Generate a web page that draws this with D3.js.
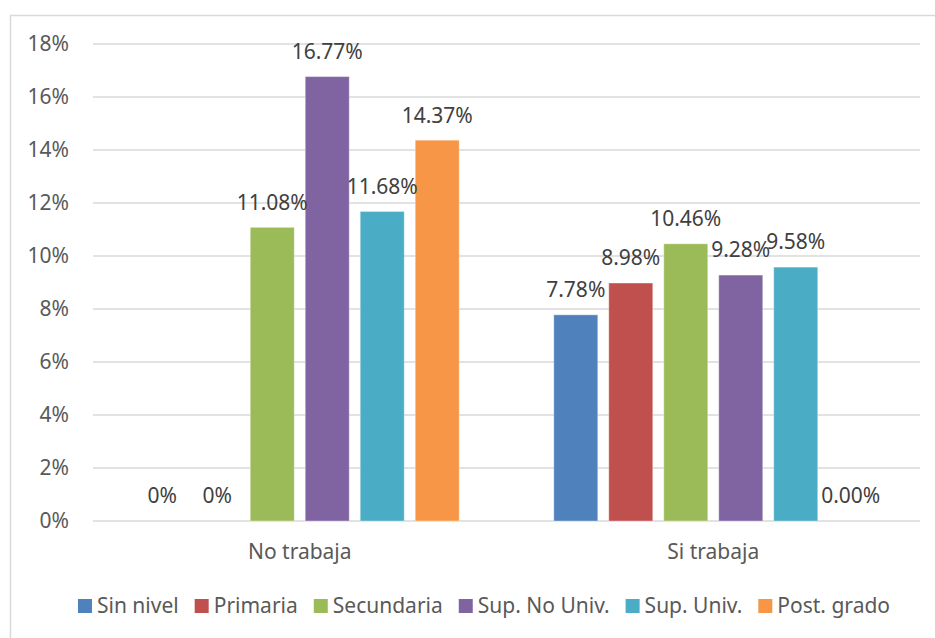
<!DOCTYPE html>
<html>
<head>
<meta charset="utf-8">
<script src="https://cdn.jsdelivr.net/npm/d3@7"></script>
<style>
  body { margin: 0; background: #fff; }
  svg { display: block; font-family: "Noto Sans", sans-serif; }
</style>
</head>
<body>
<div id="chart"></div>
<script>
// grouped bars: education level by work status
const groups = ["No trabaja", "Si trabaja"];
const series = ["Sin nivel", "Primaria", "Secundaria", "Sup. No Univ.", "Sup. Univ.", "Post. grado"];
const noTrabaja = [0, 0, 11.08, 16.77, 11.68, 14.37];
const siTrabaja = [7.78, 8.98, 10.46, 9.28, 9.58, 0];
const noTrabajaLabels = ["0%", "0%", "11.08%", "16.77%", "11.68%", "14.37%"];
const siTrabajaLabels = ["7.78%", "8.98%", "10.46%", "9.28%", "9.58%", "0.00%"];
const yTicks = [0, 2, 4, 6, 8, 10, 12, 14, 16, 18];
const colors = ["#4F81BD", "#C0504D", "#9BBB59", "#8064A2", "#4BACC6", "#F79646"];

const W = 935, H = 638;
const plot = { left: 93, right: 920, top: 44, bottom: 521 };
const FS = 21;

const svg = d3.select("#chart").append("svg")
  .attr("width", W).attr("height", H);

// outer chart frame
svg.append("rect")
  .attr("x", 10.5).attr("y", 15.5)
  .attr("width", W).attr("height", H)
  .attr("fill", "none").attr("stroke", "#d9d9d9").attr("stroke-width", 1.5);

const y = d3.scaleLinear().domain([0, 18]).range([plot.bottom, plot.top]);
const x0 = d3.scaleBand().domain(groups).range([plot.left, plot.right]).padding(0);
const x1 = d3.scaleBand().domain(series).range([0, x0.bandwidth()])
  .paddingInner(0.2).paddingOuter(0.86);
const color = d3.scaleOrdinal().domain(series).range(colors);

// gridlines
svg.append("g").selectAll("line")
  .data(yTicks)
  .join("line")
    .attr("x1", plot.left).attr("x2", plot.right)
    .attr("y1", d => y(d)).attr("y2", d => y(d))
    .attr("stroke", "#d9d9d9").attr("stroke-width", 1.5);

// y tick labels
svg.append("g").selectAll("text")
  .data(yTicks)
  .join("text")
    .attr("x", 69).attr("y", d => y(d))
    .attr("dy", "0.35em")
    .attr("text-anchor", "end")
    .attr("font-size", FS).attr("fill", "#595959")
    .text(d => d + "%");

const rows = groups.map((g, gi) => ({
  group: g,
  values: series.map((s, i) => ({
    group: g,
    series: s,
    value: gi === 0 ? noTrabaja[i] : siTrabaja[i],
    label: gi === 0 ? noTrabajaLabels[i] : siTrabajaLabels[i]
  }))
}));

const gG = svg.append("g").selectAll("g")
  .data(rows)
  .join("g")
    .attr("transform", d => `translate(${x0(d.group)},0)`);

gG.selectAll("rect")
  .data(d => d.values.filter(v => v.value > 0))
  .join("rect")
    .attr("x", d => x1(d.series))
    .attr("y", d => y(d.value))
    .attr("width", x1.bandwidth())
    .attr("height", d => y(0) - y(d.value))
    .attr("fill", d => color(d.series))
    .attr("stroke", "#ffffff").attr("stroke-opacity", 0.35).attr("stroke-width", 1);

gG.selectAll("text")
  .data(d => d.values)
  .join("text")
    .attr("x", d => x1(d.series) + x1.bandwidth() / 2)
    .attr("y", d => y(d.value) - 25)
    .attr("dy", "0.35em")
    .attr("text-anchor", "middle")
    .attr("font-size", FS).attr("fill", "#404040")
    .text(d => d.label);

// category labels
svg.append("g").selectAll("text")
  .data(groups)
  .join("text")
    .attr("x", d => x0(d) + x0.bandwidth() / 2)
    .attr("y", 552)
    .attr("dy", "0.35em")
    .attr("text-anchor", "middle")
    .attr("font-size", FS).attr("fill", "#595959")
    .text(d => d);

// legend
const legend = svg.append("g").attr("transform", "translate(0,606)");
const items = legend.selectAll("g")
  .data(series)
  .join("g");
items.append("rect")
  .attr("y", -7).attr("width", 14).attr("height", 14)
  .attr("fill", d => color(d));
items.append("text")
  .attr("x", 19).attr("dy", "0.35em")
  .attr("font-size", FS).attr("fill", "#595959")
  .text(d => d);

const GAP = 16;
let cx = 0;
items.each(function() {
  const g = d3.select(this);
  const w = 19 + g.select("text").node().getComputedTextLength();
  g.attr("transform", `translate(${cx},0)`);
  cx += w + GAP;
});
const total = cx - GAP;
legend.attr("transform", `translate(${484 - total / 2},606)`);
</script>
</body>
</html>
